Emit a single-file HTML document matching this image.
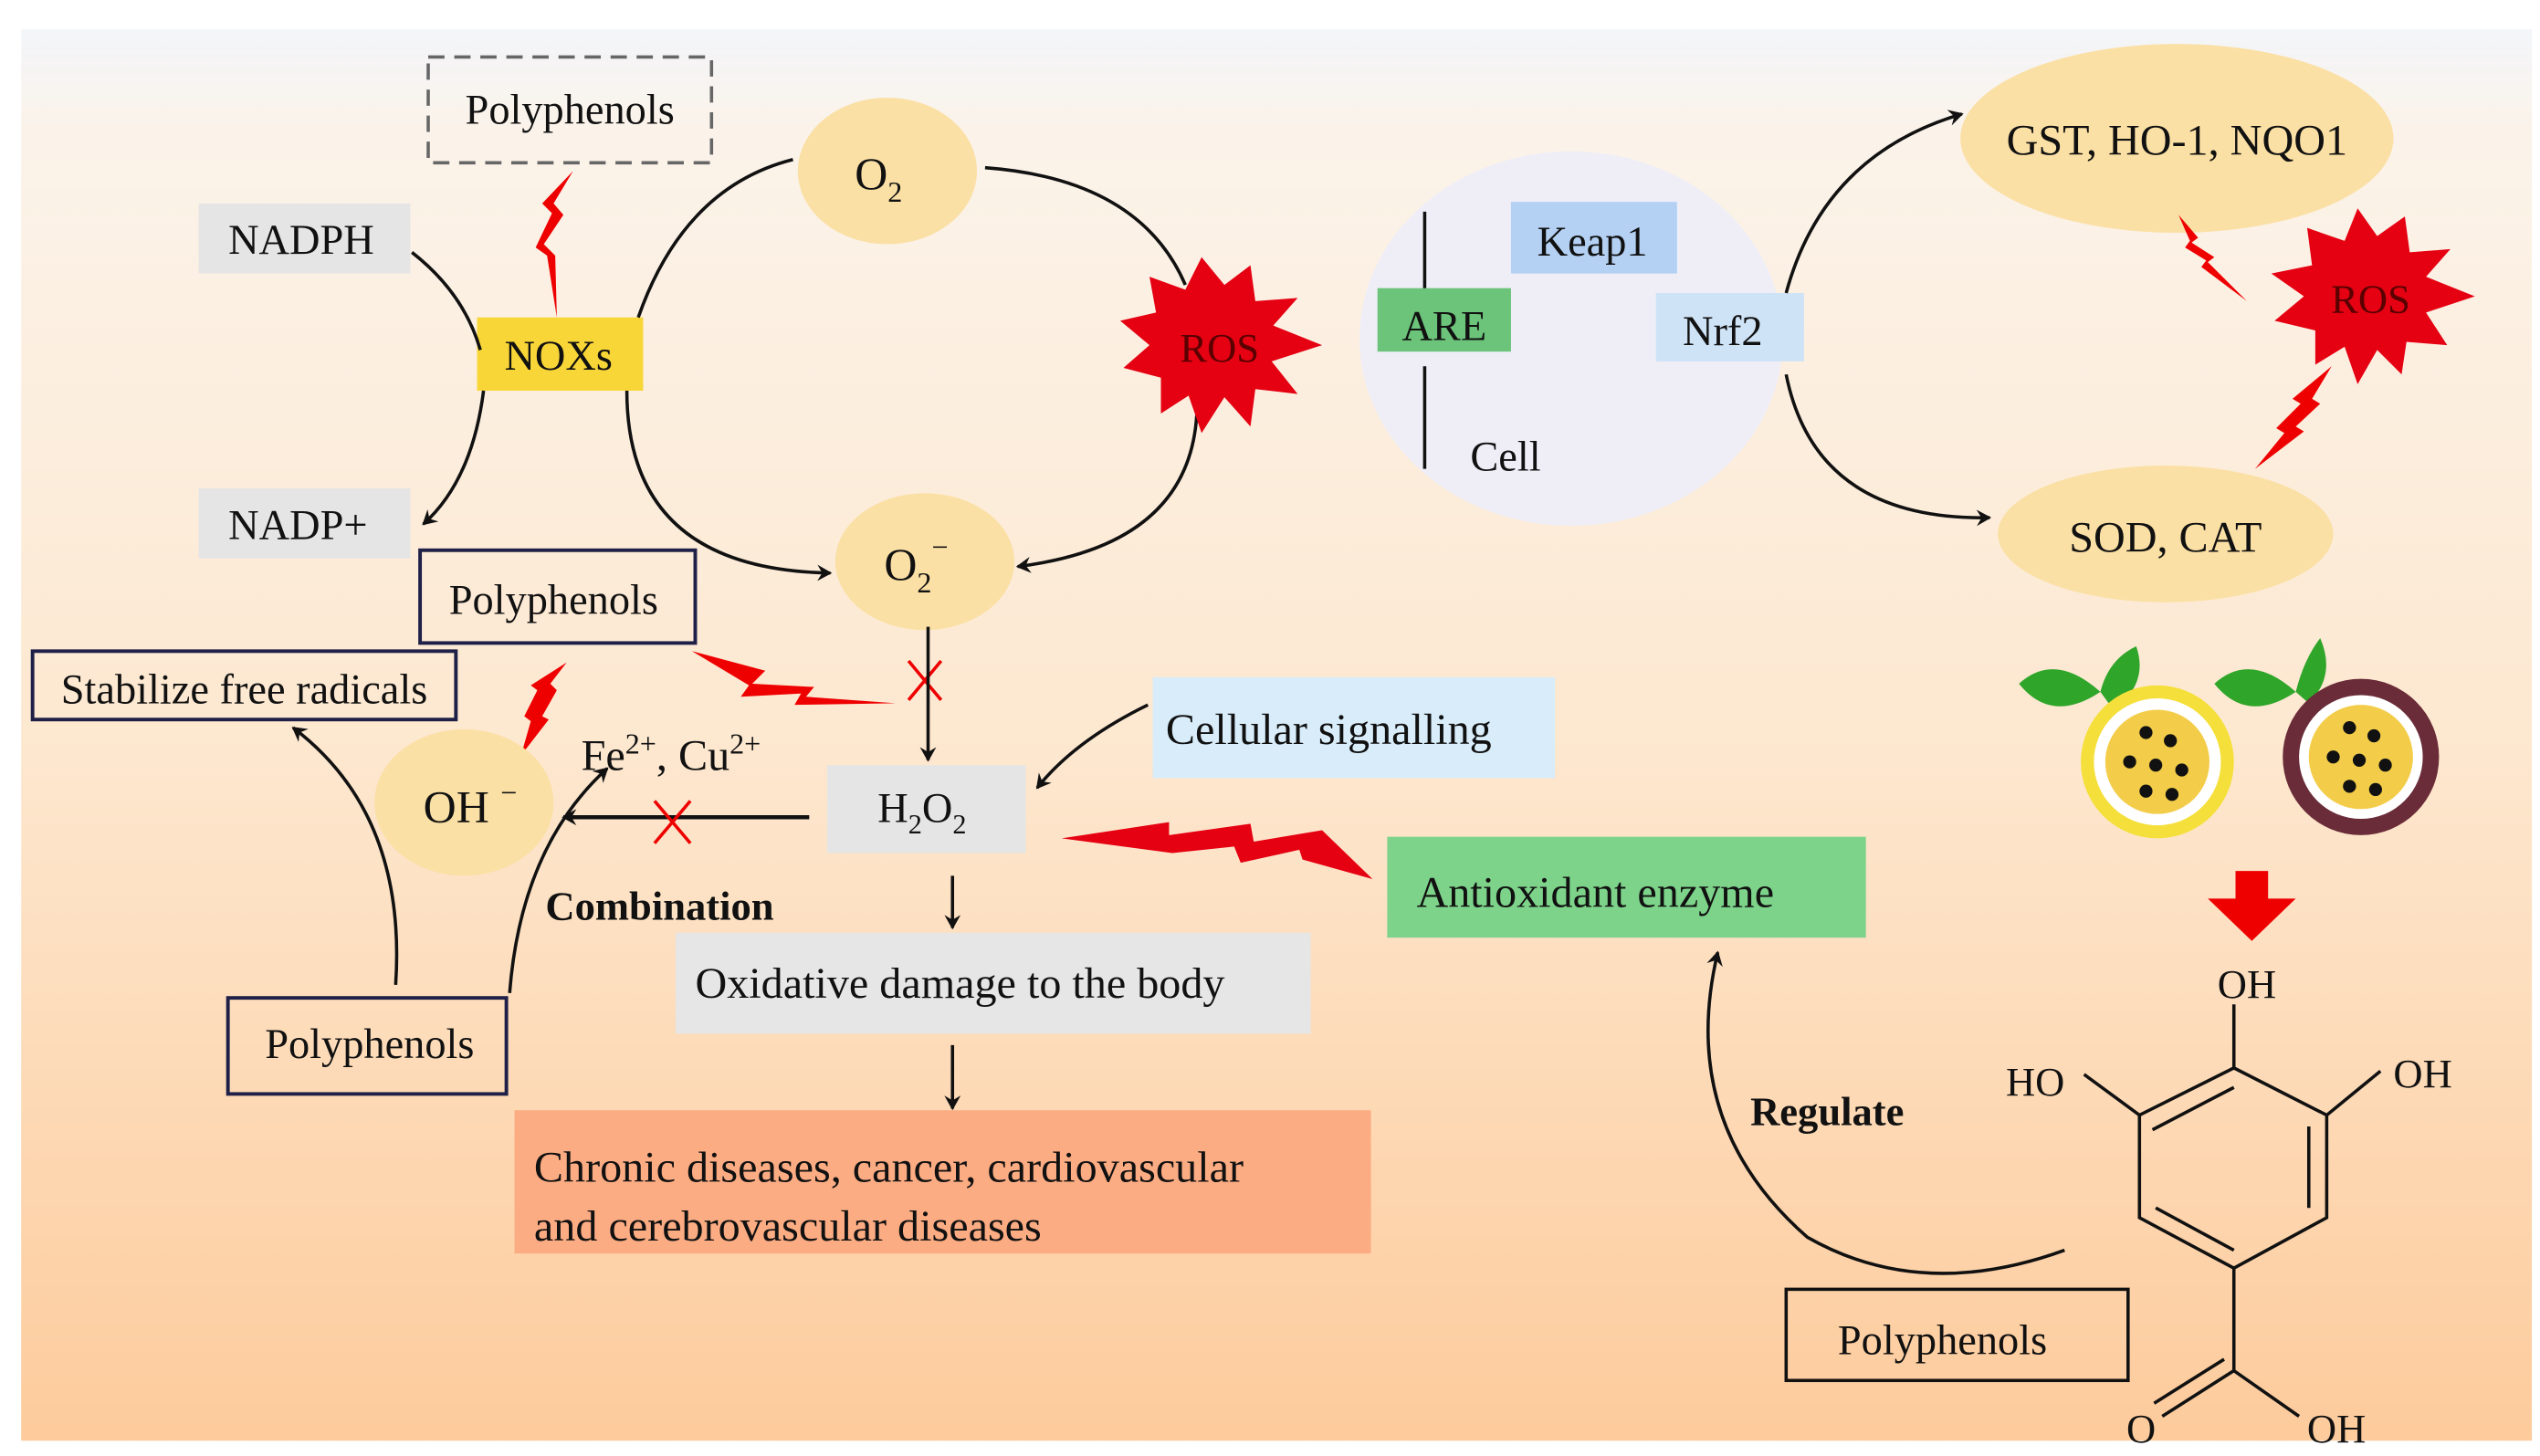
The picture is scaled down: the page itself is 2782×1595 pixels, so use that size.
<!DOCTYPE html>
<html><head><meta charset="utf-8"><style>html,body{margin:0;padding:0;background:#fff}svg{display:block}text{font-family:"Liberation Serif",serif;fill:#111}</style></head>
<body>
<svg width="2782" height="1595" viewBox="0 0 1560 894.4" preserveAspectRatio="none" xmlns="http://www.w3.org/2000/svg">
<defs>
<linearGradient id="bg" x1="0" y1="0" x2="0" y2="1">
<stop offset="0" stop-color="#f3f5f9"/><stop offset="0.07" stop-color="#fbf3ea"/><stop offset="0.5" stop-color="#fde8d0"/><stop offset="1" stop-color="#fdcb9c"/>
</linearGradient>
<marker id="ar" markerWidth="10" markerHeight="10" refX="8" refY="5" orient="auto" markerUnits="userSpaceOnUse"><path d="M0,0 L9,5 L0,10 L3,5 Z" fill="#111"/></marker>
</defs>
<rect x="0" y="0" width="1560" height="894.4" fill="#fff"/>
<rect x="13" y="18" width="1542" height="867" fill="url(#bg)"/>

<!-- left cycle -->
<rect x="263" y="35" width="174" height="65" fill="none" stroke="#666" stroke-width="2" stroke-dasharray="10,6"/>
<text x="350" y="76" font-size="26" text-anchor="middle">Polyphenols</text>
<path d="M352,105 L340,125 L346,132 L334,150 L341,157 L342,195 L336,157 L329,152 L339,131 L333,125 Z" fill="#e00"/>

<rect x="122" y="125" width="130" height="43" fill="#e5e5e5"/>
<text x="185" y="156" font-size="26" text-anchor="middle">NADPH</text>
<rect x="122" y="300" width="130" height="43" fill="#e5e5e5"/>
<text x="183" y="331" font-size="26" text-anchor="middle">NADP+</text>
<rect x="293" y="195" width="102" height="45" fill="#f9d637"/>
<text x="343" y="227" font-size="26" text-anchor="middle">NOXs</text>

<path d="M253,155 Q285,180 295,215" fill="none" stroke="#111" stroke-width="2"/>
<path d="M297,240 Q290,295 260,322" fill="none" stroke="#111" stroke-width="2" marker-end="url(#ar)"/>
<path d="M392,195 Q420,115 487,98" fill="none" stroke="#111" stroke-width="2"/>
<path d="M605,103 Q700,110 728,175" fill="none" stroke="#111" stroke-width="2"/>
<path d="M735,255 Q730,335 625,348" fill="none" stroke="#111" stroke-width="2" marker-end="url(#ar)"/>
<path d="M385,240 Q385,350 510,352" fill="none" stroke="#111" stroke-width="2" marker-end="url(#ar)"/>

<ellipse cx="545" cy="105" rx="55" ry="45" fill="#fbe0a5"/>
<text x="525" y="116" font-size="28">O<tspan font-size="18" dy="8">2</tspan></text>
<ellipse cx="568" cy="345" rx="55" ry="42" fill="#fbe0a5"/>
<text x="543" y="356" font-size="28">O<tspan font-size="18" dy="8">2</tspan><tspan font-size="18" dy="-22">−</tspan></text>

<polygon fill="#e50012" points="812,212 781,222 797,242 771,239 768,262 752,244 738,266 730,243 713,254 713,232 690,226 706,212 688,197 710,192 706,170 728,178 738,158 752,175 768,163 771,185 797,183 782,200"/>
<text x="749" y="222" font-size="25" text-anchor="middle" fill="#5a0000" style="fill:#5a0000">ROS</text>

<rect x="258" y="338" width="169" height="57" fill="none" stroke="#1f2048" stroke-width="2.2"/>
<text x="340" y="377" font-size="26" text-anchor="middle">Polyphenols</text>
<path d="M425,400 L470,412 L462,420 L500,422 L495,428 L550,432 L488,433 L492,426 L455,428 L460,421 Z" fill="#e00"/>
<path d="M558,406 L578,430 M578,406 L558,430" stroke="#e00" stroke-width="2"/>
<path d="M570,385 L570,467" stroke="#111" stroke-width="2" marker-end="url(#ar)"/>

<rect x="20" y="400" width="260" height="42" fill="none" stroke="#1f2048" stroke-width="2.2"/>
<text x="150" y="432" font-size="26" text-anchor="middle">Stabilize free radicals</text>
<path d="M348,407 L338,420 L342,424 L333,440 L337,442 L320,464 L326,443 L322,440 L330,424 L326,421 Z" fill="#e00"/>

<ellipse cx="285" cy="493" rx="55" ry="45" fill="#fbe0a5"/>
<text x="260" y="505" font-size="28">OH <tspan font-size="18" dy="-12">−</tspan></text>
<text x="357" y="473" font-size="27">Fe<tspan font-size="18" dy="-10">2+</tspan><tspan dy="10">, Cu</tspan><tspan font-size="18" dy="-10">2+</tspan></text>
<path d="M497,502 L346,502" stroke="#111" stroke-width="2.5" marker-end="url(#ar)"/>
<path d="M402,492 L424,518 M424,492 L402,518" stroke="#e00" stroke-width="2"/>

<rect x="508" y="470" width="122" height="54" fill="#e5e5e5"/>
<text x="539" y="505" font-size="26">H<tspan font-size="17" dy="7">2</tspan><tspan dy="-7">O</tspan><tspan font-size="17" dy="7">2</tspan></text>

<rect x="708" y="416" width="247" height="62" fill="#d8ecf9"/>
<text x="716" y="457" font-size="27">Cellular signalling</text>
<path d="M705,433 Q660,455 637,484" fill="none" stroke="#111" stroke-width="2" marker-end="url(#ar)"/>

<path d="M652,515 L718,505 L718,513 L768,506 L770,517 L812,510 L843,540 L800,528 L798,522 L762,530 L758,520 L720,524 Z" fill="#e50012"/>
<rect x="852" y="514" width="294" height="62" fill="#7dd38a"/>
<text x="870" y="557" font-size="27">Antioxidant enzyme</text>

<path d="M585,538 L585,570" stroke="#111" stroke-width="2" marker-end="url(#ar)"/>
<rect x="415" y="573" width="390" height="62" fill="#e6e6e6"/>
<text x="427" y="613" font-size="27">Oxidative damage to the body</text>
<path d="M585,642 L585,681" stroke="#111" stroke-width="2" marker-end="url(#ar)"/>
<rect x="316" y="682" width="526" height="88" fill="#fcac83"/>
<text x="328" y="726" font-size="27">Chronic diseases, cancer, cardiovascular</text>
<text x="328" y="762" font-size="27">and cerebrovascular diseases</text>

<text x="335" y="565" font-size="25" font-weight="bold">Combination</text>
<rect x="140" y="613" width="171" height="59" fill="none" stroke="#1f2048" stroke-width="2.2"/>
<text x="227" y="650" font-size="26" text-anchor="middle">Polyphenols</text>
<path d="M243,605 Q250,500 180,447" fill="none" stroke="#111" stroke-width="2" marker-end="url(#ar)"/>
<path d="M313,610 Q320,520 373,472" fill="none" stroke="#111" stroke-width="2" marker-end="url(#ar)"/>

<!-- Nrf2 area -->
<ellipse cx="965" cy="208" rx="130" ry="115" fill="#efeef7"/>
<path d="M875,130 L875,185 M875,225 L875,288" stroke="#111" stroke-width="2"/>
<rect x="928" y="124" width="102" height="44" fill="#b4d1f4"/>
<text x="978" y="157" font-size="26" text-anchor="middle">Keap1</text>
<rect x="846" y="177" width="82" height="39" fill="#6cc47a"/>
<text x="887" y="209" font-size="26" text-anchor="middle">ARE</text>
<rect x="1017" y="180" width="91" height="42" fill="#cfe3f6"/>
<text x="1058" y="212" font-size="26" text-anchor="middle">Nrf2</text>
<text x="903" y="289" font-size="26">Cell</text>
<path d="M1097,180 Q1120,95 1205,70" fill="none" stroke="#111" stroke-width="2" marker-end="url(#ar)"/>
<path d="M1097,230 Q1115,320 1222,318" fill="none" stroke="#111" stroke-width="2" marker-end="url(#ar)"/>

<ellipse cx="1337" cy="85" rx="133" ry="58" fill="#fbe0a5"/>
<text x="1337" y="95" font-size="27" text-anchor="middle">GST, HO-1, NQO1</text>
<ellipse cx="1330" cy="328" rx="103" ry="42" fill="#fbe0a5"/>
<text x="1330" y="339" font-size="27" text-anchor="middle">SOD, CAT</text>

<polygon fill="#e50012" points="1520,182 1490,192 1503,212 1478,210 1475,230 1460,215 1448,236 1440,213 1422,224 1422,203 1397,197 1415,182 1395,168 1420,163 1417,140 1440,148 1448,128 1460,145 1477,133 1480,155 1505,153 1490,170"/>
<text x="1456" y="192" font-size="25" text-anchor="middle" style="fill:#5a0000">ROS</text>
<path d="M1338,132 L1350,146 L1346,149 L1360,158 L1356,161 L1380,185 L1352,164 L1355,160 L1342,152 L1345,148 Z" fill="#e00"/>
<path d="M1432,225 L1420,245 L1425,248 L1410,262 L1415,265 L1385,288 L1403,266 L1398,263 L1413,248 L1408,245 Z" fill="#e00"/>

<!-- fruits -->
<path d="M1240,420 Q1262,400 1290,425 Q1260,445 1240,420 Z" fill="#2fa52a"/>
<path d="M1290,425 Q1295,405 1312,397 Q1320,420 1298,436 Z" fill="#2fa52a"/>
<path d="M1360,420 Q1382,400 1410,425 Q1380,445 1360,420 Z" fill="#2fa52a"/>
<path d="M1410,425 Q1415,405 1425,392 Q1435,415 1418,432 Z" fill="#2fa52a"/>
<circle cx="1325" cy="468" r="47" fill="#f5df3a"/>
<circle cx="1325" cy="468" r="39" fill="#fff"/>
<circle cx="1325" cy="468" r="32" fill="#f3cd4a"/>
<circle cx="1450" cy="465" r="48" fill="#6a2c38"/>
<circle cx="1450" cy="465" r="38" fill="#fff"/>
<circle cx="1450" cy="465" r="32" fill="#f3cd4a"/>
<g fill="#111">
<circle cx="1318" cy="450" r="4"/><circle cx="1333" cy="455" r="4"/><circle cx="1308" cy="468" r="4"/><circle cx="1324" cy="470" r="4"/><circle cx="1340" cy="473" r="4"/><circle cx="1318" cy="486" r="4"/><circle cx="1334" cy="488" r="4"/>
<circle cx="1443" cy="447" r="4"/><circle cx="1458" cy="452" r="4"/><circle cx="1433" cy="465" r="4"/><circle cx="1449" cy="467" r="4"/><circle cx="1465" cy="470" r="4"/><circle cx="1443" cy="483" r="4"/><circle cx="1459" cy="485" r="4"/>
</g>
<path d="M1373,535 L1393,535 L1393,552 L1410,552 L1383,578 L1356,552 L1373,552 Z" fill="#e00"/>

<!-- gallic acid -->
<g stroke="#111" stroke-width="2" fill="none">
<path d="M1372,656 L1429,685 L1429,748 L1372,779 L1314,748 L1314,685 Z"/>
<path d="M1372,668 L1322,694 M1418,692 L1418,742 M1372,768 L1324,742"/>
<path d="M1372,656 L1372,617 M1314,685 L1280,660 M1429,685 L1462,658 M1372,779 L1372,842 L1328,870 M1366,835 L1323,862 M1372,842 L1412,870"/>
</g>
<text x="1380" y="613" font-size="25" text-anchor="middle">OH</text>
<text x="1250" y="673" font-size="25" text-anchor="middle">HO</text>
<text x="1488" y="668" font-size="25" text-anchor="middle">OH</text>
<text x="1315" y="886" font-size="25" text-anchor="middle">O</text>
<text x="1435" y="886" font-size="25" text-anchor="middle">OH</text>

<rect x="1097" y="792" width="210" height="56" fill="none" stroke="#111" stroke-width="2"/>
<text x="1193" y="832" font-size="26" text-anchor="middle">Polyphenols</text>
<text x="1075" y="691" font-size="25" font-weight="bold">Regulate</text>
<path d="M1268,768 Q1180,800 1110,760 Q1030,690 1055,585" fill="none" stroke="#111" stroke-width="2" marker-end="url(#ar)"/>
</svg>
</body></html>
